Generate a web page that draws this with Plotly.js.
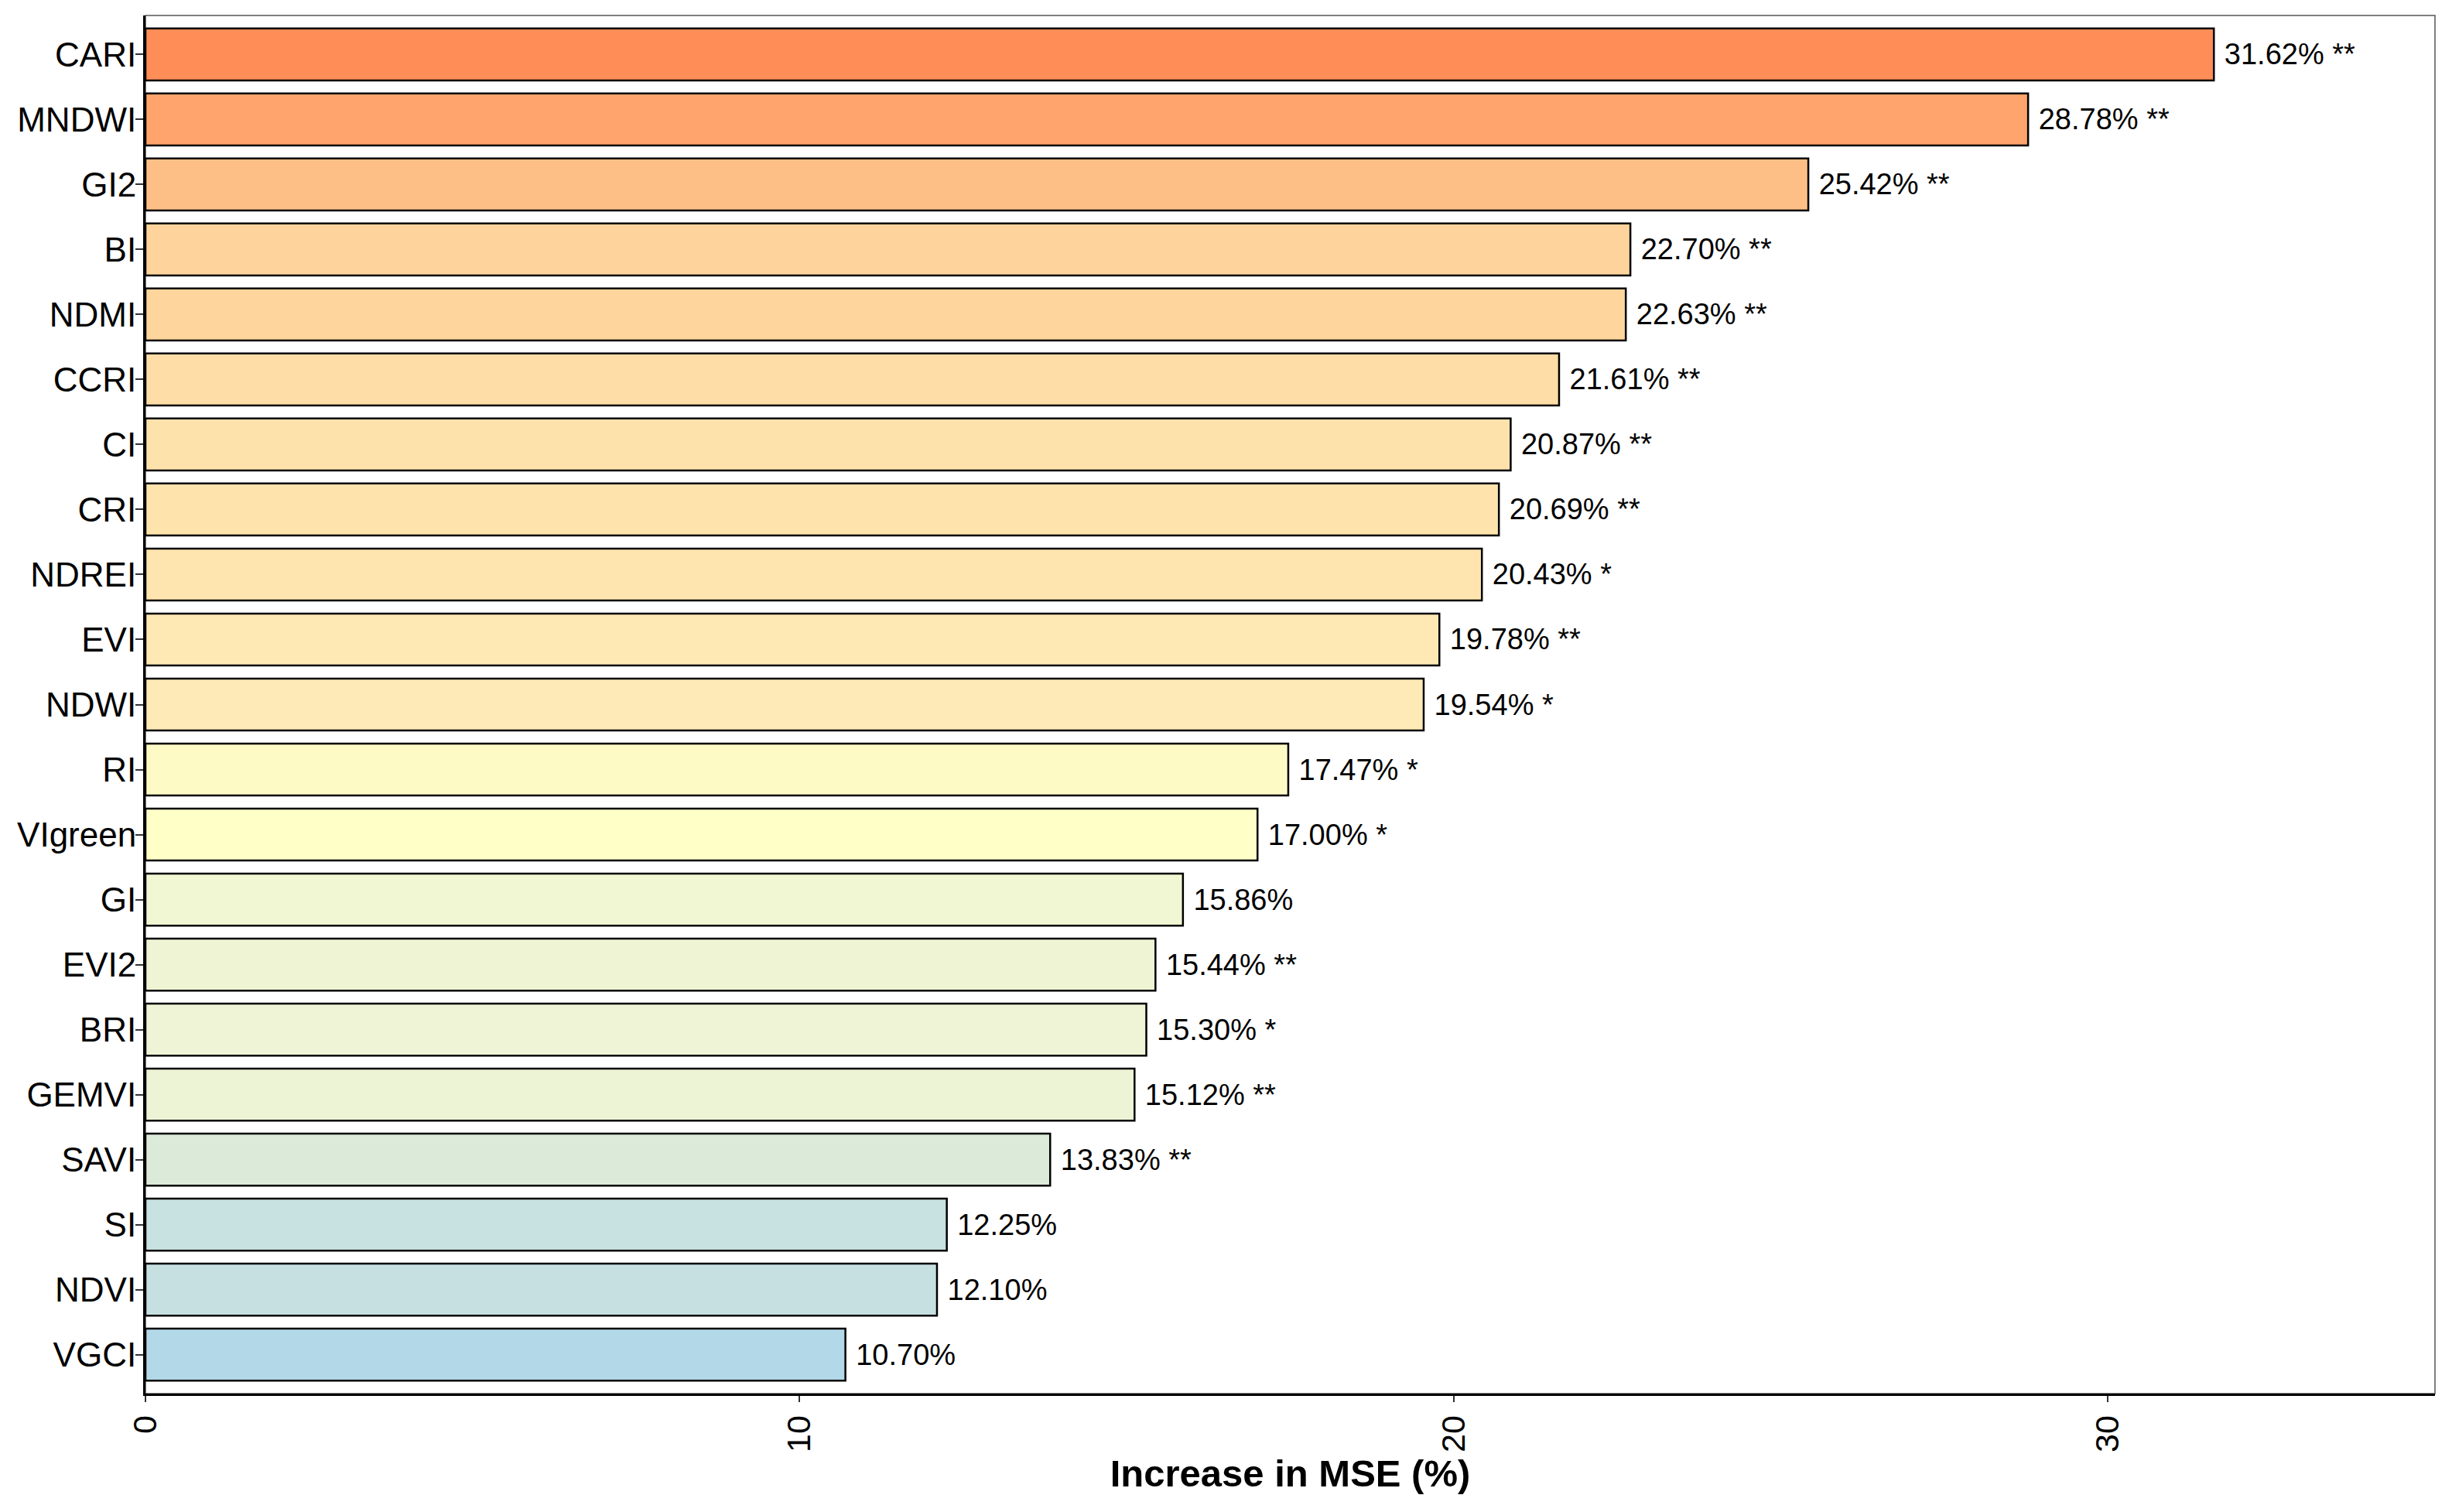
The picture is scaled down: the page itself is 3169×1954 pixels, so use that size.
<!DOCTYPE html>
<html>
<head>
<meta charset="utf-8">
<script src="https://cdn.plot.ly/plotly-3.0.1.min.js"></script>
<style>
html,body{margin:0;padding:0;background:#fff;}
#chart{width:3169px;height:1954px;}
</style>
</head>
<body>
<div id="chart"></div>
<script>
const categories = ["CARI","MNDWI","GI2","BI","NDMI","CCRI","CI","CRI","NDREI","EVI","NDWI","RI","VIgreen","GI","EVI2","BRI","GEMVI","SAVI","SI","NDVI","VGCI"];
const values = [31.62,28.78,25.42,22.70,22.63,21.61,20.87,20.69,20.43,19.78,19.54,17.47,17.00,15.86,15.44,15.30,15.12,13.83,12.25,12.10,10.70];
const significance = ["**","**","**","**","**","**","**","**","*","**","*","*","*","","**","*","**","**","","",""];
const xTicks = [0,10,20,30];

const vmin = Math.min(...values), vmax = Math.max(...values);
const norm = v => (v - vmin) / (vmax - vmin);
const colorscale = [
  [0, "#B3D8E7"],
  [norm(12.10), "#C6E0E2"],
  [norm(13.83), "#DCEBD9"],
  [norm(15.12), "#EDF3D5"],
  [norm(15.86), "#F1F7D3"],
  [norm(17.00), "#FFFFC8"],
  [norm(17.47), "#FEFAC6"],
  [norm(19.54), "#FEEAB6"],
  [norm(20.69), "#FEE3AD"],
  [norm(21.61), "#FEDDA6"],
  [norm(22.70), "#FED49C"],
  [norm(25.42), "#FEBF86"],
  [norm(28.78), "#FEA46C"],
  [1, "#FE8D58"]
];

const labels = values.map((v, i) => "\u00A0" + v.toFixed(2) + "%" + (significance[i] ? " " + significance[i] : ""));

const trace = {
  type: "bar",
  orientation: "h",
  y: categories,
  x: values,
  width: 0.8,
  marker: {
    color: values,
    colorscale: colorscale,
    cmin: vmin,
    cmax: vmax,
    showscale: false,
    line: {color: "#000000", width: 2.5}
  },
  text: labels,
  textposition: "outside",
  constraintext: "none",
  cliponaxis: false,
  textfont: {family: "Liberation Sans, Arial, sans-serif", size: 38, color: "#000"},
  hoverinfo: "none"
};

const layout = {
  width: 3169,
  height: 1954,
  margin: {l: 188, r: 22, t: 20, b: 153, pad: 0},
  paper_bgcolor: "#ffffff",
  plot_bgcolor: "#ffffff",
  showlegend: false,
  font: {family: "Liberation Sans, Arial, sans-serif", color: "#000"},
  xaxis: {
    range: [0, 35],
    tickvals: xTicks,
    ticktext: xTicks.map(String),
    tickangle: -90,
    ticks: "outside",
    ticklen: 8,
    tickwidth: 2,
    tickcolor: "#333",
    tickfont: {size: 43, color: "#000"},
    showline: true,
    linecolor: "#000",
    linewidth: 3,
    showgrid: false,
    zeroline: false,
    title: {text: "<b>Increase in MSE (%)</b>", font: {size: 49, color: "#000"}, standoff: 6}
  },
  yaxis: {
    type: "category",
    categoryorder: "array",
    categoryarray: categories,
    range: [20.6, -0.6],
    ticks: "outside",
    ticklen: 10,
    tickwidth: 2,
    tickcolor: "#333",
    ticklabelstandoff: -10,
    tickfont: {size: 44, color: "#000"},
    showline: true,
    linecolor: "#000",
    linewidth: 3,
    showgrid: false,
    zeroline: false
  },
  shapes: [{
    type: "rect", xref: "paper", yref: "paper", x0: 0, x1: 1, y0: 0, y1: 1,
    line: {color: "#555", width: 1.5}, layer: "below", fillcolor: "rgba(0,0,0,0)"
  }]
};

Plotly.newPlot("chart", [trace], layout, {displayModeBar: false, staticPlot: true});
</script>
</body>
</html>
